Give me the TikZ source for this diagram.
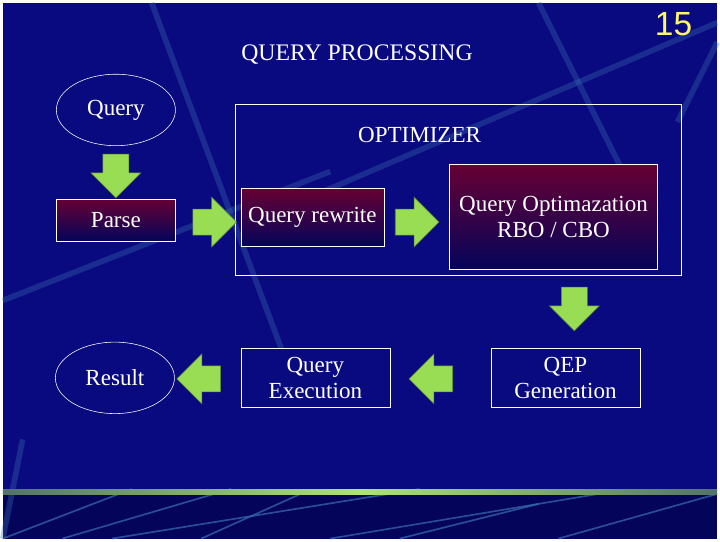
\documentclass[tikz,border=0pt]{standalone}
\usepackage{fontspec}
\setmainfont{Liberation Serif}
\newfontfamily\numfont{Liberation Sans}
\usetikzlibrary{shapes.geometric,shapes.arrows}
\definecolor{slideblue}{HTML}{0A0A80}
\definecolor{slidedark}{HTML}{04045A}
\definecolor{streak}{HTML}{3A6EB0}
\definecolor{maroon}{HTML}{660033}
\definecolor{arrowgreen}{HTML}{99DD55}
\begin{document}
\begin{tikzpicture}[x=0.025cm,y=-0.025cm,inner sep=0pt,outer sep=0pt,
txt/.style={font=\fontsize{16.5}{19}\selectfont,text=white,align=center},
ellnode/.style={draw=white,ellipse,minimum width=3cm,minimum height=1.8cm,txt},
stepbox/.style={draw=white,rectangle,top color=maroon,bottom color=slidedark,txt},
bluebox/.style={draw=white,rectangle,fill=slideblue,txt},
bigarrow/.style={single arrow,draw=arrowgreen!60!black,fill=arrowgreen,inner sep=0.32cm,minimum height=1.1cm,minimum width=1.25cm,single arrow head extend=0.3cm}]
% background
\fill[slideblue] (0,0) rectangle (720,495);
\fill[slidedark] (0,495) rectangle (720,540);
\foreach \a/\b/\c/\d in {0/300/330/170, 300/200/720/20, 150/0/300/400, 540/0/640/200, 680/120/720/40, 20/440/0/540}
  \draw[streak,opacity=0.35,line width=4pt] (\a,\b) -- (\c,\d);
\foreach \a/\b/\c/\d in {0/540/130/490, 60/540/230/490, 110/540/420/490, 200/540/300/495, 330/540/600/495, 400/540/540/505, 560/540/720/495}
  \draw[streak,opacity=0.7,line width=1.2pt] (\a,\b) -- (\c,\d);
\shade[left color=arrowgreen!50!slideblue,right color=arrowgreen!50!slideblue,middle color=arrowgreen!80] (0,491) rectangle (720,496);
% titles
\draw (357,52) node[txt,font=\fontsize{17}{19}\selectfont] (title) {QUERY PROCESSING};
\draw (676,22) node[font=\numfont\fontsize{24}{26}\selectfont,text=yellow!60] (page) {15};
% optimizer frame
\draw[white] (234,102) rectangle (684,275);
\draw (420,133) node[txt] (opt) {OPTIMIZER};
% nodes
\draw (114,108) node[ellnode] (query) {Query};
\draw (114,219) node[stepbox,minimum width=3cm,minimum height=1.05cm] (parse) {Parse};
\draw (312,216) node[stepbox,minimum width=3.6cm,minimum height=1.45cm] (rewrite) {Query rewrite};
\draw (555,216) node[stepbox,minimum width=5.25cm,minimum height=2.65cm] (cbo) {Query Optimazation\\RBO / CBO};
\draw (567,378) node[bluebox,minimum width=3.75cm,minimum height=1.5cm] (qep) {QEP\\Generation};
\draw (315,378) node[bluebox,minimum width=3.75cm,minimum height=1.5cm] (exec) {Query\\Execution};
\draw (113,378) node[ellnode] (result) {Result};
% arrows
\draw (114,168) node[bigarrow,shape border rotate=270] (a1) {};
\draw (207,221) node[bigarrow] (a2) {};
\draw (411,221) node[bigarrow] (a3) {};
\draw (576,302) node[bigarrow,shape border rotate=270] (a4) {};
\draw (438,379) node[bigarrow,shape border rotate=180] (a5) {};
\draw (204,379) node[bigarrow,shape border rotate=180] (a6) {};
\end{tikzpicture}
\end{document}
